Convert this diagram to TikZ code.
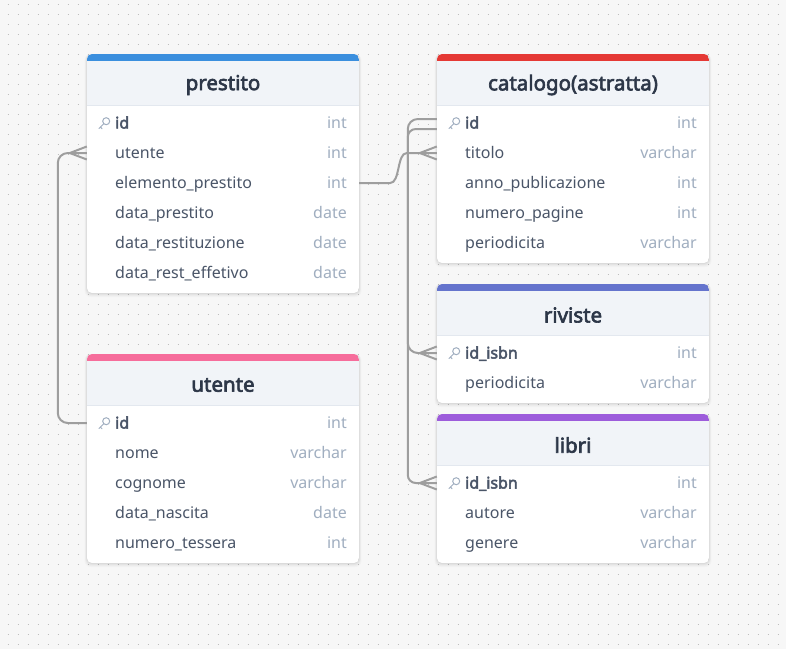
\documentclass[tikz,border=0pt]{standalone}
\usepackage{fontspec}
\setmainfont{Noto Sans}[AutoFakeBold=3]
\usetikzlibrary{calc}
\definecolor{bgc}{HTML}{F7F7F7}
\definecolor{dotc}{HTML}{BDBDBD}
\definecolor{cblue}{HTML}{3B8FDE}
\definecolor{cred}{HTML}{E53935}
\definecolor{cindigo}{HTML}{6574CD}
\definecolor{cpurple}{HTML}{9D5CDB}
\definecolor{cpink}{HTML}{F66D9B}
\definecolor{hdrc}{HTML}{F1F4F8}
\definecolor{sepc}{HTML}{E3E8EF}
\definecolor{titc}{HTML}{2D3748}
\definecolor{fldc}{HTML}{4A5568}
\definecolor{typc}{HTML}{A0AEC0}
\definecolor{connc}{HTML}{9E9E9E}
\tikzset{
  dotline/.style={dotc, line width=1pt, dash pattern=on 1pt off 9pt},
  rowbox/.style={minimum width=272pt, minimum height=30pt, inner sep=0pt},
  titletxt/.style={text=titc, font=\fontsize{20.5}{24}\selectfont\bfseries, inner sep=0pt},
  fldtxt/.style={text=fldc, font=\fontsize{16}{18}\selectfont, inner sep=0pt, anchor=base west},
  keytxt/.style={text=fldc, font=\fontsize{16}{18}\selectfont\bfseries, inner sep=0pt, anchor=base west},
  typtxt/.style={text=typc, font=\fontsize{16}{18}\selectfont, inner sep=0pt, anchor=base east},
  keyline/.style={typc, line width=1pt, line cap=round},
  conn/.style={connc, line width=2pt},
}
\newcommand\ertable[6]{% #1 name, #2 x, #3 top, #4 bottom, #5 color, #6 title
  \foreach \s/\o in {4/0.02,3/0.025,2/0.03,1/0.035}{
    \fill[black, opacity=\o, rounded corners=6pt] (#2-\s*0.6,#3) rectangle (#2+272+\s*0.6,#4+\s);
  }
  \begin{scope}
    \path[clip, rounded corners=5pt] (#2,#3) rectangle (#2+272,#4);
    \fill[white] (#2,#3) rectangle (#2+272,#4);
    \fill[#5] (#2,#3) rectangle (#2+272,#3+7);
    \fill[hdrc] (#2,#3+7) rectangle (#2+272,#3+51);
    \draw[sepc, line width=1.2pt] (#2,#3+51.5) -- (#2+272,#3+51.5);
  \end{scope}
  \node[titletxt] (#1) at (#2+136,#3+31) {#6};
}
\newcommand\erow[5]{% #1 name, #2 x, #3 yc, #4 field, #5 type
  \node[rowbox] (#1) at (#2+136,#3) {};
  \node[fldtxt] (#1-f) at (#2+28,#3+5.5) {#4};
  \node[typtxt] (#1-t) at (#2+260,#3+5.5) {#5};
}
\newcommand\ekrow[5]{% key row
  \node[rowbox] (#1) at (#2+136,#3) {};
  \draw[keyline] (#2+19.2,#3-1.8) circle (3.5pt);
  \draw[keyline] (#2+16.8,#3+0.7) -- (#2+12,#3+5.5);
  \draw[keyline] (#2+13.4,#3+4.1) -- (#2+15.1,#3+5.8);
  \node[keytxt] (#1-f) at (#2+28,#3+5.5) {#4};
  \node[typtxt] (#1-t) at (#2+260,#3+5.5) {#5};
}
\newcommand\crowfoot[1]{%
  \draw[conn] ($(#1)+(-17,0)$) -- ($(#1)+(0,-6.5)$);
  \draw[conn] ($(#1)+(-17,0)$) -- ($(#1)+(0,6.5)$);
}
\begin{document}
\begin{tikzpicture}[x=1pt,y=-1pt]
  \useasboundingbox (0,0) rectangle (786,649);
  \fill[bgc] (0,0) rectangle (786,649);
  \foreach \j in {0,...,64}{
    \draw[dotline] (7.5,4+10*\j) -- (786,4+10*\j);
  }
  % prestito
  \ertable{prestito}{87}{54}{293}{cblue}{prestito}
  \ekrow{prestito-id}{87}{123}{id}{int}
  \erow{prestito-utente}{87}{153}{utente}{int}
  \erow{prestito-elem}{87}{183}{elemento\_prestito}{int}
  \erow{prestito-dp}{87}{213}{data\_prestito}{date}
  \erow{prestito-dr}{87}{243}{data\_restituzione}{date}
  \erow{prestito-dre}{87}{273}{data\_rest\_effetivo}{date}
  % utente
  \ertable{utente}{87}{354}{563}{cpink}{utente}
  \ekrow{utente-id}{87}{423}{id}{int}
  \erow{utente-nome}{87}{453}{nome}{varchar}
  \erow{utente-cognome}{87}{483}{cognome}{varchar}
  \erow{utente-dn}{87}{513}{data\_nascita}{date}
  \erow{utente-nt}{87}{543}{numero\_tessera}{int}
  % catalogo
  \ertable{catalogo}{437}{54}{263}{cred}{catalogo(astratta)}
  \ekrow{catalogo-id}{437}{123}{id}{int}
  \erow{catalogo-titolo}{437}{153}{titolo}{varchar}
  \erow{catalogo-anno}{437}{183}{anno\_publicazione}{int}
  \erow{catalogo-np}{437}{213}{numero\_pagine}{int}
  \erow{catalogo-per}{437}{243}{periodicita}{varchar}
  % riviste
  \ertable{riviste}{437}{284}{403}{cindigo}{riviste}
  \ekrow{riviste-id}{437}{353}{id\_isbn}{int}
  \erow{riviste-per}{437}{383}{periodicita}{varchar}
  % libri
  \ertable{libri}{437}{414}{563}{cpurple}{libri}
  \ekrow{libri-id}{437}{483}{id\_isbn}{int}
  \erow{libri-autore}{437}{513}{autore}{varchar}
  \erow{libri-genere}{437}{543}{genere}{varchar}
  % connectors
  \draw[conn, rounded corners=10pt] (prestito-utente.west) -- ++(-29,0) |- (utente-id.west);
  \crowfoot{prestito-utente.west}
  \draw[conn] (prestito-elem.east) -- ++(31,0) coordinate (c2a)
    .. controls ($(c2a)+(10,0)$) and ($(catalogo-titolo.west)+(-40,0)$) .. ($(catalogo-titolo.west)+(-30,0)$)
    -- (catalogo-titolo.west);
  \crowfoot{catalogo-titolo.west}
  \draw[conn, rounded corners=10pt] ($(catalogo-id.west)+(0,-4)$) -- ++(-29,0) |- (riviste-id.west);
  \crowfoot{riviste-id.west}
  \draw[conn, rounded corners=8pt] ($(catalogo-id.west)+(0,6)$) -- ++(-29,0) |- (libri-id.west);
  \crowfoot{libri-id.west}
\end{tikzpicture}
\end{document}
